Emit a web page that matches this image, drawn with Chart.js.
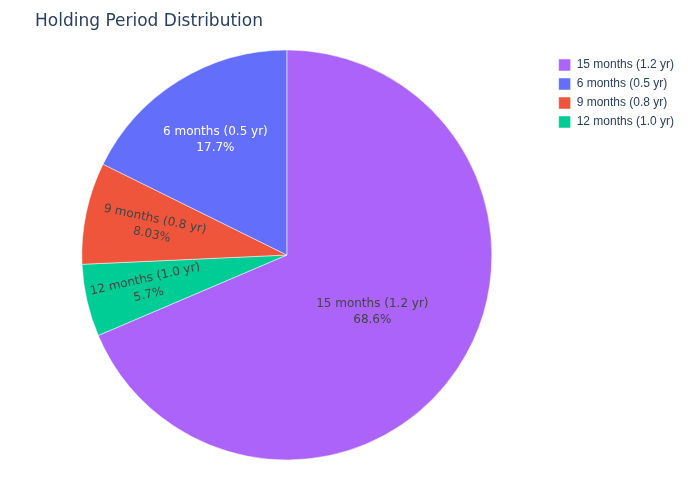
<!DOCTYPE html>
<html>
<head>
<meta charset="utf-8">
<title>Holding Period Distribution</title>
<script src="https://cdn.jsdelivr.net/npm/chart.js@4"></script>
<style>
  html, body { margin: 0; padding: 0; background: #fff; }
</style>
</head>
<body>
<canvas id="chart" width="700" height="500"></canvas>
<script>
  // Slices in drawing order, clockwise from 12 o'clock
  const chartTitle = 'Holding Period Distribution';
  const categories = ['15 months (1.2 yr)', '12 months (1.0 yr)', '9 months (0.8 yr)', '6 months (0.5 yr)'];
  const shares = [68.6, 5.7, 8.03, 17.7];
  const sliceColors = ['#AB63FA', '#00CC96', '#EF553B', '#636EFA'];
  const labelColors = ['#444', '#444', '#444', '#fff'];

  // Where each slice label sits (fraction of radius) and whether it turns along the radius
  const labelRadius = [0.5, 0.7, 0.665, 0.66];
  const labelRadial = [false, true, true, false];

  const total = shares.reduce((a, b) => a + b, 0);

  // Two-line label inside each slice: name and percent
  const sliceLabels = {
    id: 'sliceLabels',
    afterDatasetsDraw(chart) {
      const ctx = chart.ctx;
      const meta = chart.getDatasetMeta(0);

      meta.data.forEach((arc, i) => {
        const { x, y, startAngle, endAngle, outerRadius } =
          arc.getProps(['x', 'y', 'startAngle', 'endAngle', 'outerRadius'], true);
        const mid = (startAngle + endAngle) / 2;
        const r = outerRadius * labelRadius[i];
        let rot = 0;
        if (labelRadial[i]) {
          rot = Math.cos(mid) < 0 ? mid - Math.PI : mid;
        }
        const pct = parseFloat((shares[i] / total * 100).toPrecision(3)) + '%';

        ctx.save();
        ctx.translate(x + Math.cos(mid) * r, y + Math.sin(mid) * r);
        ctx.rotate(rot);
        ctx.font = '12px "DejaVu Sans"';
        ctx.fillStyle = labelColors[i];
        ctx.textAlign = 'center';
        ctx.textBaseline = 'middle';
        ctx.fillText(categories[i], 0, -8);
        ctx.fillText(pct, 0, 8);
        ctx.restore();
      });
    }
  };

  // Title sits at the top-left, outside the layout boxes
  const plotTitle = {
    id: 'plotTitle',
    afterDraw(chart) {
      const ctx = chart.ctx;
      ctx.save();
      ctx.font = '17px "DejaVu Sans"';
      ctx.fillStyle = '#2a3f5f';
      ctx.textBaseline = 'alphabetic';
      ctx.fillText(chartTitle, 35, 26);
      ctx.restore();
    }
  };

  new Chart(document.getElementById('chart'), {
    type: 'pie',
    data: {
      labels: categories,
      datasets: [{
        data: shares,
        backgroundColor: sliceColors,
        borderColor: '#fff',
        borderWidth: 0.5,
        radius: 205
      }]
    },
    options: {
      responsive: false,
      animation: false,
      layout: { padding: { top: 52, bottom: 42, left: 22, right: 16 } },
      plugins: {
        legend: {
          position: 'right',
          align: 'start',
          labels: {
            boxWidth: 12,
            boxHeight: 12,
            padding: 7,
            color: '#2a3f5f',
            font: { family: '"Liberation Sans", Arial', size: 12 },
            // legend lists largest share first
            sort: (a, b) => shares[b.index] - shares[a.index]
          }
        },
        tooltip: { enabled: false }
      }
    },
    plugins: [sliceLabels, plotTitle]
  });
</script>
</body>
</html>
